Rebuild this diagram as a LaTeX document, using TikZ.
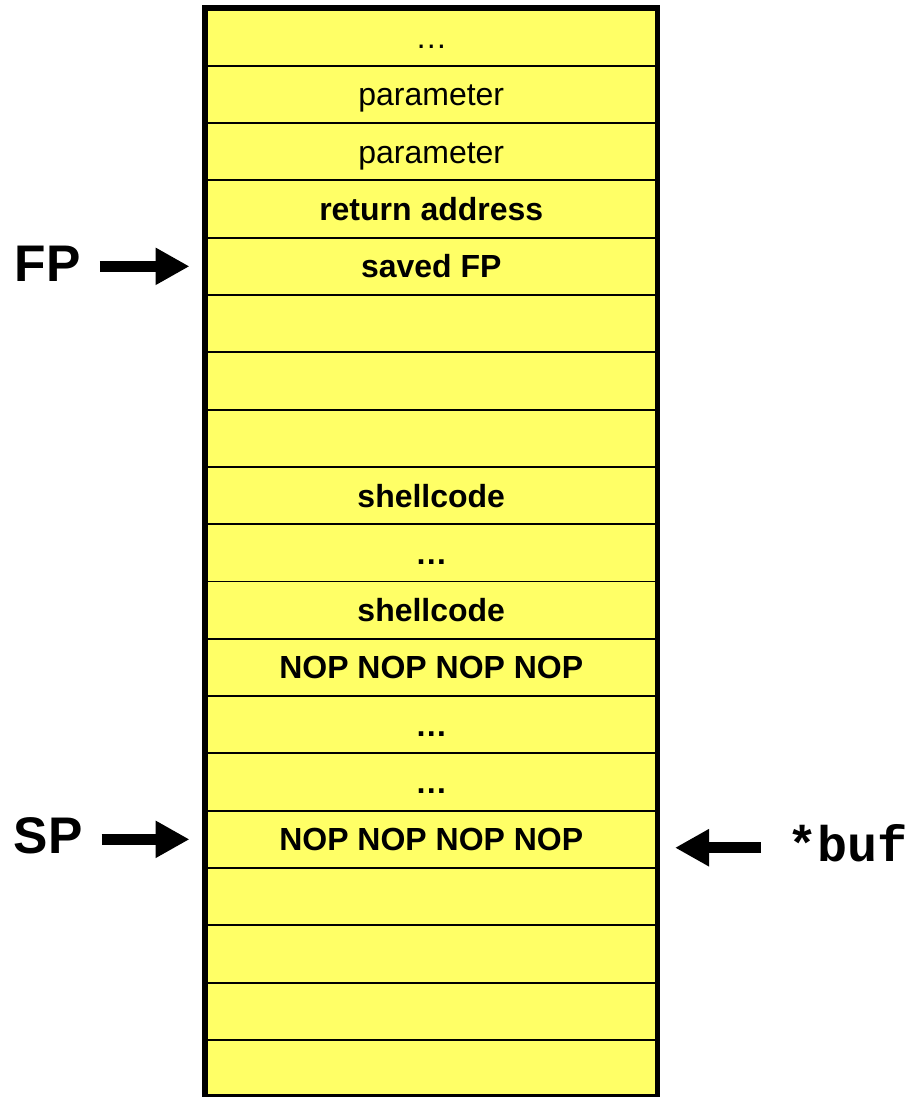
\documentclass[tikz,border=0pt]{standalone}
\usepackage{fontspec}
\setmainfont{Liberation Sans}
\setmonofont{Liberation Mono}
\usetikzlibrary{arrows.meta}
\usepackage{xcolor}
\definecolor{stackyellow}{RGB}{255,255,102}

\begin{document}
\begin{tikzpicture}[
	cell/.style={draw,fill=stackyellow,line width=1.1pt,minimum width=9.05cm,minimum height=1.146cm,inner sep=0,outer sep=0,text height=13.1pt,text depth=0pt,font=\fontsize{18.2}{22}\selectfont},
	reg/.style={font=\fontsize{29.3}{34}\selectfont\bfseries,inner sep=0,anchor=base},
	bigarrow/.style={-{Triangle[length=0.68cm,width=0.70cm]},line width=0.21cm}]
	\useasboundingbox (0,0) rectangle (18.32,21.94);

	% the stack, one cell per word
	\node(r1) at (8.625,21.197)[cell]{…};
	\node(r2) at (8.625,20.051)[cell]{parameter};
	\node(r3) at (8.625,18.905)[cell]{parameter};
	\node(r4) at (8.625,17.759)[cell]{\bfseries return address};
	\node(r5) at (8.625,16.613)[cell]{\bfseries saved FP};
	\node(r6) at (8.625,15.467)[cell]{};
	\node(r7) at (8.625,14.321)[cell]{};
	\node(r8) at (8.625,13.175)[cell]{};
	\node(r9) at (8.625,12.029)[cell]{\bfseries shellcode};
	\node(r10) at (8.625,10.883)[cell]{\bfseries …};
	\node(r11) at (8.625,9.737)[cell]{\bfseries shellcode};
	\node(r12) at (8.625,8.591)[cell]{\bfseries NOP NOP NOP NOP};
	\node(r13) at (8.625,7.445)[cell]{\bfseries …};
	\node(r14) at (8.625,6.299)[cell]{\bfseries …};
	\node(r15) at (8.625,5.153)[cell]{\bfseries NOP NOP NOP NOP};
	\node(r16) at (8.625,4.007)[cell]{};
	\node(r17) at (8.625,2.861)[cell]{};
	\node(r18) at (8.625,1.715)[cell]{};
	\node(r19) at (8.625,0.569)[cell]{};
	\draw[line width=3.4pt] (r1.north west) rectangle (r19.south east);

	% pointers
	\node(FP) at (0.95,16.30)[reg]{FP};
	\node(SP) at (0.96,4.86)[reg]{SP};
	\node(buf) at (16.95,4.70)[reg,font=\fontsize{28.5}{34}\selectfont\ttfamily\bfseries]{*buf};

	\draw[bigarrow,shorten <=0.38cm,shorten >=0.31cm](FP.east |- r5.west) -- (r5.west);
	\draw[bigarrow,shorten <=0.38cm,shorten >=0.31cm](SP.east |- r15.west) -- (r15.west);
	\draw[bigarrow,shorten <=0.52cm,shorten >=0.35cm]([yshift=-0.08cm]buf.west) -- ([yshift=-0.08cm]buf.west -| r15.east);
\end{tikzpicture}
\end{document}
